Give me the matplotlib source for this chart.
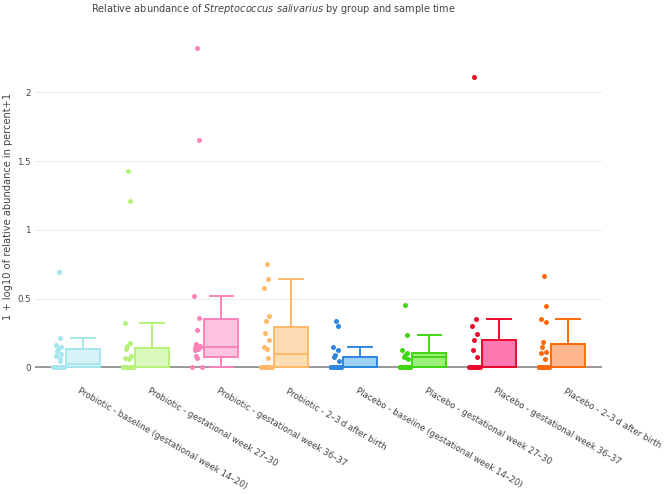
#!/usr/bin/env python3
"""
Relative abundance of S. salivarius by group and sample time
Box plots with all points shown beside each box
"""

import matplotlib
matplotlib.use('Agg')
import matplotlib.pyplot as plt
import matplotlib.transforms as mtransforms
import numpy as np

# Categories (x tick labels)
groups = [
    'Probiotic - baseline (gestational week 14\u201320)',
    'Probiotic - gestational week 27\u201330',
    'Probiotic - gestational week 36\u201337',
    'Probiotic - 2\u20133\u2009d after birth',
    'Placebo - baseline (gestational week 14\u201320)',
    'Placebo - gestational week 27\u201330',
    'Placebo - gestational week 36\u201337',
    'Placebo - 2\u20133\u2009d after birth',
]

# Non-zero sample values
pts_prob_base = [0.69, 0.215, 0.165, 0.15, 0.135, 0.12, 0.1, 0.08, 0.06, 0.045]
pts_prob_27 = [1.43, 1.21, 0.32, 0.18, 0.155, 0.13, 0.082, 0.07, 0.063]
pts_prob_36 = [2.32, 1.65, 0.52, 0.356, 0.27, 0.17, 0.155, 0.145, 0.14, 0.135,
               0.126, 0.15, 0.082, 0.065]
pts_prob_birth = [0.75, 0.645, 0.58, 0.375, 0.337, 0.247, 0.2, 0.15, 0.13, 0.065]
pts_plac_base = [0.34, 0.30, 0.145, 0.126, 0.09, 0.073, 0.046]
pts_plac_27 = [0.453, 0.235, 0.126, 0.106, 0.09, 0.073, 0.058]
pts_plac_36 = [2.11, 0.35, 0.30, 0.242, 0.2, 0.126, 0.073]
pts_plac_birth = [0.667, 0.448, 0.35, 0.33, 0.182, 0.145, 0.11, 0.102, 0.058]

# number of samples at zero per group
zero_counts = [24, 24, 2, 22, 26, 24, 26, 26]

# Box statistics
q1 = [0, 0, 0.077, 0, 0, 0, 0, 0]
med = [0.024, 0.004, 0.145, 0.097, 0.003, 0.073, 0.003, 0.003]
q3 = [0.13, 0.138, 0.35, 0.29, 0.077, 0.102, 0.2, 0.167]
whis_lo = [0, 0, 0, 0, 0, 0, 0, 0]
whis_hi = [0.215, 0.32, 0.52, 0.645, 0.145, 0.235, 0.35, 0.35]

line_colors = ['#a6e6ef', '#b6f27a', '#ff82bb', '#ffb968',
               '#2f86e0', '#3fd614', '#ec0a2c', '#ff6a0a']
fill_colors = ['#d6f4f8', '#dcf9bd', '#ffc2df', '#ffdcb3',
               '#9fd2f2', '#9cf07c', '#ff78b2', '#ffb78e']

all_pts = [pts_prob_base, pts_prob_27, pts_prob_36, pts_prob_birth,
           pts_plac_base, pts_plac_27, pts_plac_36, pts_plac_birth]

fig = plt.figure(figsize=(6.64, 4.94), dpi=100)
ax = fig.add_axes([35 / 664, 1 - 371.4 / 494, 567 / 664, 336.8 / 494])

x = np.arange(len(groups))
box_pos = x + 0.10
pt_pos = x - 0.25

# grid lines and zero line
for yv in [0.5, 1, 1.5, 2]:
    ax.axhline(yv, color='#eeeeee', linewidth=0.8, zorder=0)
ax.axhline(0, color='#888888', linewidth=1.2, zorder=1)

stats = []
for i in range(len(groups)):
    stats.append(dict(q1=q1[i], med=med[i], q3=q3[i],
                      whislo=whis_lo[i], whishi=whis_hi[i], fliers=[]))

bp = ax.bxp(stats, positions=box_pos, widths=0.49, patch_artist=True,
            showfliers=False, manage_ticks=False)
for i in range(len(groups)):
    bp['boxes'][i].set(facecolor=fill_colors[i], edgecolor=line_colors[i],
                       linewidth=1.4, zorder=3)
    bp['medians'][i].set(color=line_colors[i], linewidth=1.4, zorder=4)
    for w in bp['whiskers'][2 * i:2 * i + 2]:
        w.set(color=line_colors[i], linewidth=1.4, zorder=2)
    for c in bp['caps'][2 * i:2 * i + 2]:
        c.set(color=line_colors[i], linewidth=1.4, zorder=2)
        xd = c.get_xdata()
        mid = (xd[0] + xd[1]) / 2
        c.set_xdata([mid - 0.245 * 0.7, mid + 0.245 * 0.7])

# all points, spread with a fixed jitter pattern (zeros spread wider)
for i in range(len(groups)):
    nz = np.array(all_pts[i])
    jit = 0.04 * np.sin(np.arange(len(nz)) * 2.39996)
    ax.scatter(pt_pos[i] + jit, nz, s=13, color=line_colors[i],
               linewidths=0, zorder=5, clip_on=False)
    k = zero_counts[i]
    if k > 2:
        zj = np.linspace(-0.075, 0.075, k)
    else:
        zj = np.array([-0.07, 0.07])[:k]
    ax.scatter(pt_pos[i] + zj, np.zeros(k), s=13, color=line_colors[i],
               linewidths=0, zorder=5, clip_on=False)

ax.set_xlim(-0.59, 7.59)
ax.set_ylim(-0.03, 2.42)
ax.set_yticks([0, 0.5, 1, 1.5, 2])
ax.set_yticklabels(['0', '0.5', '1', '1.5', '2'])
ax.set_xticks(x)
ax.set_xticklabels(groups, rotation=-30, ha='left', va='top',
                   rotation_mode='anchor')
ax.tick_params(axis='both', length=0, labelsize=6.2, colors='#444444')
ax.tick_params(axis='y', pad=3)
ax.tick_params(axis='x', pad=11)
shift = mtransforms.ScaledTranslation(5 / 100, 0, fig.dpi_scale_trans)
for lbl in ax.get_xticklabels():
    lbl.set_transform(lbl.get_transform() + shift)
for s in ax.spines.values():
    s.set_visible(False)

fig.text(273 / 664, 1 - 9 / 494,
         'Relative abundance of $\\it{Streptococcus\\ salivarius}$ by group and sample time',
         ha='center', va='center', fontsize=7.0, color='#444444')
fig.text(8 / 664, 1 - 206 / 494, '1 + log10 of relative abundance in percent+1',
         rotation=90, ha='center', va='center', fontsize=7.1, color='#444444')

plt.savefig('out.png', dpi=100)
